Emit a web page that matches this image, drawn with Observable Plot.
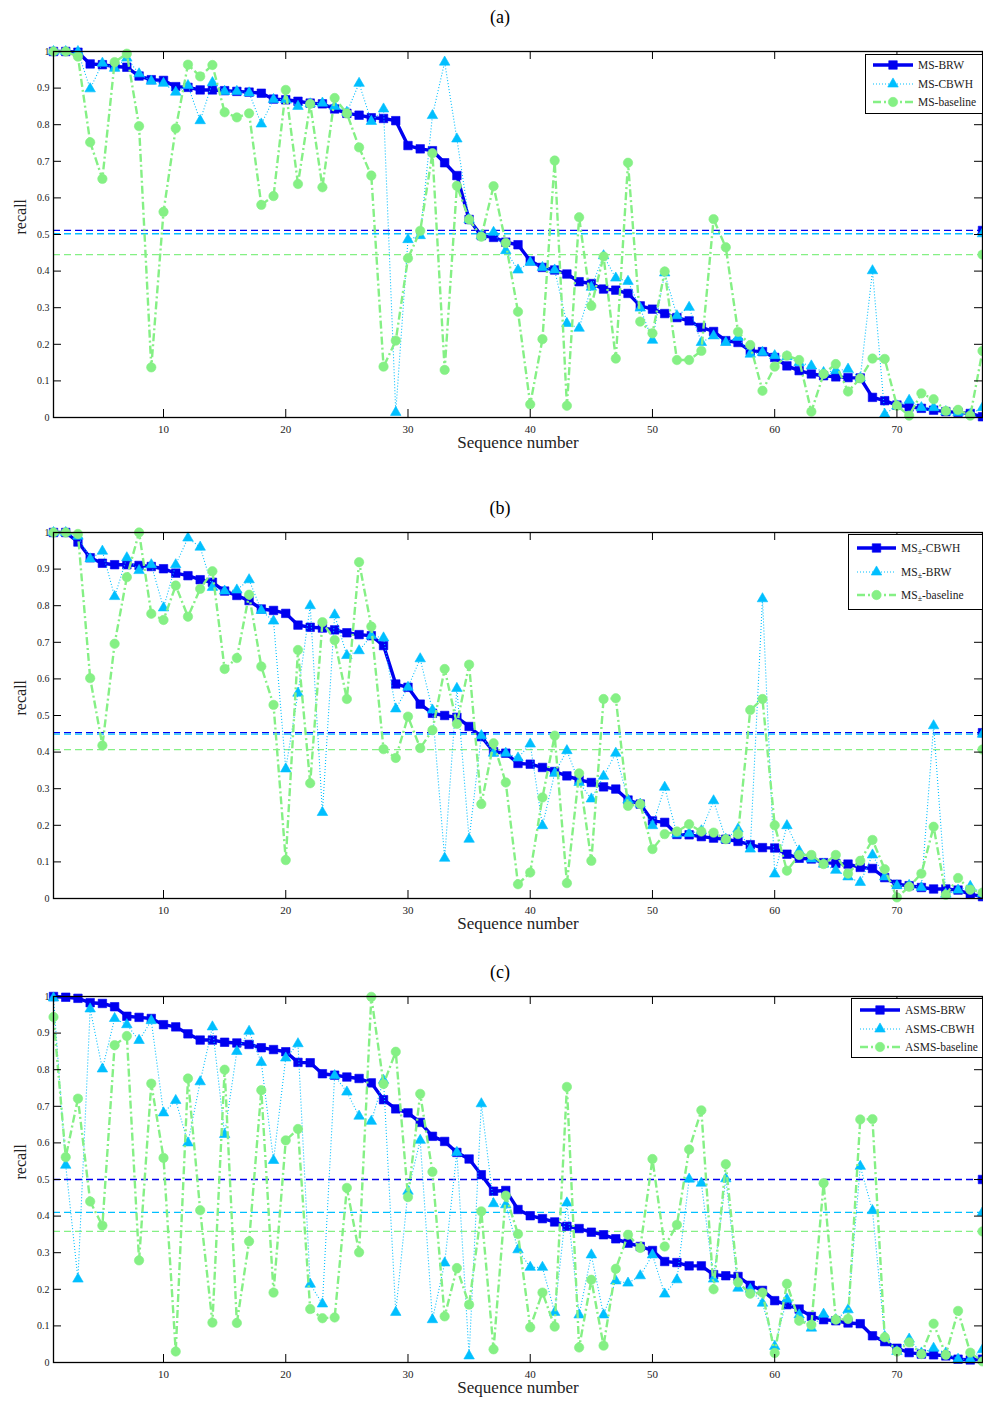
<!DOCTYPE html>
<html><head><meta charset="utf-8">
<script src="https://cdn.jsdelivr.net/npm/d3@7"></script>
<script src="https://cdn.jsdelivr.net/npm/@observablehq/plot@0.6"></script>
<style>
body{margin:0;background:#fff;font-family:"Liberation Serif","Times New Roman",serif;}
#page{position:relative;width:983px;height:1404px;overflow:hidden;background:#fff;}
.title{position:absolute;width:200px;left:400px;text-align:center;font-size:18px;line-height:20px;color:#000;}
.panel{position:absolute;left:0;}
.legend{position:absolute;background:#fff;border:1.3px solid #000;box-sizing:border-box;font-size:11.5px;color:#222;}
.legend .row{position:absolute;height:14px;line-height:14px;white-space:nowrap;}
.legend svg{position:absolute;left:0;top:0;}
.legend span.lab{position:absolute;top:0;}
sub{font-size:8px;vertical-align:-2px;line-height:0;}
</style>
</head><body><div id="page"></div>
<script>
// ---------- data ----------
const sequence = Array.from({length: 77}, (_, i) => i + 1);
const xTicks = [10, 20, 30, 40, 50, 60, 70];
const yTicks = [0, 0.1, 0.2, 0.3, 0.4, 0.5, 0.6, 0.7, 0.8, 0.9, 1];
const xLabel = "Sequence number";
const yLabel = "recall";

// panel (a)
const aTitle = "(a)";
const aNames = ["MS-BRW", "MS-CBWH", "MS-baseline"];
const aBRW = [1.0,1.0,0.998,0.966,0.964,0.959,0.957,0.933,0.923,0.921,
  0.904,0.902,0.895,0.895,0.893,0.891,0.889,0.886,0.87,0.868,
  0.864,0.859,0.857,0.843,0.831,0.826,0.819,0.817,0.811,0.743,
  0.734,0.729,0.696,0.661,0.541,0.497,0.492,0.479,0.472,0.428,
  0.41,0.403,0.392,0.371,0.366,0.351,0.348,0.339,0.305,0.296,
  0.284,0.273,0.264,0.246,0.235,0.21,0.205,0.182,0.18,0.164,
  0.141,0.128,0.119,0.114,0.111,0.109,0.108,0.055,0.046,0.034,
  0.029,0.025,0.02,0.016,0.014,0.011,0.002];
const aCBWH = [1.0,1.0,1.0,0.898,0.968,0.954,0.982,0.939,0.919,0.913,
  0.889,0.907,0.811,0.915,0.891,0.891,0.887,0.802,0.869,0.869,
  0.85,0.857,0.859,0.85,0.834,0.913,0.809,0.843,0.014,0.486,
  0.497,0.825,0.971,0.761,0.541,0.497,0.506,0.456,0.403,0.424,
  0.41,0.403,0.257,0.244,0.356,0.442,0.381,0.372,0.299,0.211,
  0.395,0.278,0.301,0.205,0.223,0.205,0.219,0.173,0.178,0.169,
  0.166,0.15,0.141,0.123,0.128,0.132,0.108,0.401,0.009,0.032,
  0.047,0.027,0.027,0.016,0.014,0.009,0.027];
const aBase = [1.0,1.0,0.986,0.752,0.652,0.971,0.994,0.796,0.137,0.562,
  0.79,0.964,0.932,0.963,0.834,0.82,0.831,0.581,0.605,0.895,
  0.638,0.857,0.629,0.873,0.831,0.738,0.661,0.139,0.21,0.435,
  0.51,0.722,0.13,0.633,0.541,0.494,0.632,0.477,0.289,0.036,
  0.214,0.702,0.032,0.547,0.305,0.44,0.161,0.696,0.262,0.23,
  0.399,0.157,0.157,0.182,0.542,0.465,0.234,0.198,0.073,0.139,
  0.169,0.157,0.016,0.119,0.146,0.071,0.107,0.161,0.16,0.032,
  0.005,0.066,0.05,0.018,0.021,0.005,0.182];
const aMeans = [0.511, 0.502, 0.445];

// panel (b)
const bTitle = "(b)";
const bNames = ["MS<sub>±</sub>-CBWH", "MS<sub>±</sub>-BRW", "MS<sub>±</sub>-baseline"];
const bCBWH = [1.0,1.0,0.974,0.931,0.916,0.912,0.912,0.91,0.907,0.901,
  0.889,0.882,0.871,0.864,0.84,0.828,0.814,0.791,0.787,0.779,
  0.747,0.741,0.739,0.734,0.726,0.721,0.718,0.691,0.586,0.577,
  0.531,0.506,0.5,0.495,0.47,0.442,0.401,0.397,0.369,0.367,
  0.358,0.347,0.335,0.324,0.317,0.305,0.299,0.269,0.258,0.212,
  0.208,0.175,0.174,0.169,0.165,0.162,0.156,0.147,0.139,0.138,
  0.121,0.11,0.108,0.098,0.096,0.094,0.085,0.082,0.057,0.039,
  0.035,0.03,0.026,0.026,0.023,0.012,0.005];
const bBRW = [1.0,1.0,0.99,0.928,0.949,0.825,0.931,0.896,0.912,0.794,
  0.912,0.985,0.96,0.85,0.84,0.843,0.871,0.787,0.758,0.354,
  0.561,0.8,0.235,0.775,0.664,0.677,0.718,0.712,0.518,0.577,
  0.655,0.515,0.11,0.574,0.162,0.445,0.397,0.397,0.384,0.422,
  0.199,0.342,0.404,0.317,0.272,0.334,0.397,0.269,0.258,0.199,
  0.304,0.176,0.178,0.185,0.267,0.162,0.19,0.135,0.819,0.067,
  0.199,0.13,0.108,0.094,0.077,0.059,0.044,0.119,0.059,0.035,
  0.036,0.03,0.472,0.012,0.023,0.033,0.014];
const bBase = [1.0,1.0,0.996,0.602,0.418,0.696,0.878,1.0,0.778,0.761,
  0.855,0.77,0.846,0.894,0.627,0.657,0.83,0.634,0.529,0.105,
  0.679,0.315,0.755,0.706,0.545,0.919,0.743,0.408,0.384,0.497,
  0.411,0.46,0.627,0.477,0.639,0.258,0.424,0.317,0.039,0.071,
  0.276,0.445,0.042,0.342,0.103,0.545,0.547,0.253,0.258,0.135,
  0.176,0.183,0.203,0.183,0.18,0.162,0.176,0.515,0.545,0.2,
  0.076,0.119,0.119,0.094,0.119,0.068,0.103,0.16,0.08,0.003,
  0.032,0.068,0.196,0.01,0.056,0.024,0.016];
const bMeans = [0.453, 0.449, 0.407];

// panel (c)
const cTitle = "(c)";
const cNames = ["ASMS-BRW", "ASMS-CBWH", "ASMS-baseline"];
const cBRW = [1.0,0.998,0.995,0.983,0.981,0.972,0.946,0.943,0.94,0.923,
  0.917,0.898,0.881,0.881,0.875,0.873,0.869,0.86,0.855,0.849,
  0.82,0.819,0.789,0.785,0.78,0.776,0.764,0.718,0.693,0.682,
  0.656,0.618,0.604,0.574,0.556,0.513,0.468,0.47,0.418,0.401,
  0.393,0.384,0.372,0.366,0.356,0.349,0.338,0.326,0.317,0.306,
  0.276,0.273,0.264,0.264,0.24,0.237,0.235,0.211,0.197,0.169,
  0.158,0.146,0.126,0.117,0.114,0.108,0.106,0.073,0.057,0.039,
  0.027,0.023,0.021,0.018,0.009,0.007,0.009];
const cCBWH = [0.996,0.539,0.228,0.966,0.802,0.94,0.923,0.88,0.934,0.682,
  0.716,0.6,0.767,0.917,0.623,0.85,0.905,0.82,0.552,0.832,
  0.871,0.214,0.16,0.784,0.739,0.673,0.659,0.771,0.137,0.468,
  0.607,0.117,0.272,0.574,0.018,0.707,0.434,0.431,0.308,0.26,
  0.26,0.137,0.436,0.13,0.294,0.13,0.223,0.217,0.237,0.294,
  0.187,0.226,0.501,0.49,0.228,0.502,0.203,0.2,0.162,0.044,
  0.173,0.13,0.094,0.132,0.117,0.144,0.536,0.415,0.071,0.03,
  0.064,0.026,0.039,0.026,0.009,0.009,0.035];
const cBase = [0.944,0.561,0.721,0.44,0.374,0.867,0.892,0.279,0.762,0.559,
  0.03,0.776,0.416,0.109,0.8,0.108,0.331,0.744,0.191,0.607,
  0.638,0.146,0.121,0.123,0.477,0.301,0.999,0.761,0.849,0.452,
  0.734,0.521,0.126,0.258,0.158,0.413,0.036,0.456,0.351,0.096,
  0.191,0.098,0.753,0.041,0.226,0.046,0.256,0.349,0.313,0.556,
  0.317,0.376,0.582,0.689,0.2,0.542,0.219,0.188,0.191,0.026,
  0.215,0.114,0.103,0.49,0.117,0.119,0.664,0.665,0.069,0.03,
  0.055,0.023,0.106,0.021,0.141,0.027,0.003];
const cMeans = [0.5, 0.41, 0.358];

// ---------- styles ----------
const STYLES = [
  {color: "#0000f0", width: 3.4, dash: null, symbol: "square", r: 4.8},
  {color: "#00bfff", width: 1.1, dash: "1,2", symbol: "triangle", r: 3.9},
  {color: "#85f085", width: 2.4, dash: "8,3,2,3", symbol: "circle", r: 4.7}
];

const W = 983, ML = 53, MR = 1, MT = 12, PH = 366, MB = 40;
const PW = W - ML - MR;
const page = document.getElementById("page");

function buildPanel(title, names, seriesVals, means, svgTop, titleTop, legendBox) {
  const marks = [];
  seriesVals.forEach((vals, i) => {
    const s = STYLES[i];
    marks.push(Plot.ruleY([means[i]], {y: d => d, stroke: s.color, strokeWidth: 1.3, strokeDasharray: "7,4"}));
  });
  seriesVals.forEach((vals, i) => {
    const s = STYLES[i];
    const rows = sequence.map((x, j) => ({x, y: vals[j]}));
    marks.push(Plot.line(rows, {x: "x", y: "y", stroke: s.color, strokeWidth: s.width,
      strokeDasharray: s.dash, strokeLinejoin: "miter", strokeLinecap: "butt"}));
    marks.push(Plot.dot(rows, {x: "x", y: "y", symbol: s.symbol, r: s.r, fill: s.color,
      stroke: s.color, strokeWidth: 0.6}));
    marks.push(Plot.dot([means[i]], {x: () => sequence[sequence.length - 1], y: d => d,
      symbol: s.symbol, r: s.r, fill: s.color, stroke: s.color, strokeWidth: 0.6}));
  });
  marks.push(Plot.tickY(yTicks, {y: d => d, insetRight: PW - 8, stroke: "#000", strokeWidth: 1}));
  marks.push(Plot.tickY(yTicks, {y: d => d, insetLeft: PW - 8, stroke: "#000", strokeWidth: 1}));
  marks.push(Plot.tickX(xTicks, {x: d => d, insetTop: PH - 8, stroke: "#000", strokeWidth: 1}));
  marks.push(Plot.tickX(xTicks, {x: d => d, insetBottom: PH - 8, stroke: "#000", strokeWidth: 1}));
  marks.push(Plot.frame({stroke: "#000", strokeWidth: 1.3}));
  marks.push(Plot.axisY({ticks: yTicks, tickSize: 0, tickPadding: 4, fontSize: 10, label: null,
    tickFormat: d => String(d), fill: "#222"}));
  marks.push(Plot.axisX({ticks: xTicks, tickSize: 0, tickPadding: 8, fontSize: 11, label: null,
    tickFormat: d => String(d), fill: "#222"}));
  marks.push(Plot.text([xLabel], {text: d => d, frameAnchor: "bottom", dy: 30, fontSize: 17, fill: "#222"}));
  marks.push(Plot.text([yLabel], {text: d => d, frameAnchor: "left", dx: -33, rotate: -90, fontSize: 16, fill: "#222"}));

  const svg = Plot.plot({
    width: W, height: MT + PH + MB,
    marginLeft: ML, marginRight: MR, marginTop: MT, marginBottom: MB,
    style: {fontFamily: "'Liberation Serif','Times New Roman',serif", background: "transparent", overflow: "visible"},
    x: {domain: [1, 77]},
    y: {domain: [0, 1]},
    marks
  });
  const holder = document.createElement("div");
  holder.className = "panel";
  holder.style.top = svgTop + "px";
  holder.appendChild(svg);
  page.appendChild(holder);

  const t = document.createElement("div");
  t.className = "title";
  t.style.top = titleTop + "px";
  t.textContent = title;
  page.appendChild(t);

  const lg = document.createElement("div");
  lg.className = "legend";
  Object.assign(lg.style, {left: legendBox.left + "px", top: legendBox.top + "px",
    width: legendBox.width + "px", height: legendBox.height + "px"});
  names.forEach((name, i) => {
    const s = STYLES[i];
    const row = document.createElement("div");
    row.className = "row";
    row.style.left = legendBox.sampleLeft + "px";
    row.style.top = (legendBox.rows[i] - 7) + "px";
    row.style.width = (legendBox.width - legendBox.sampleLeft - 2) + "px";
    const sw = legendBox.sampleWidth;
    const ns = "http://www.w3.org/2000/svg";
    const sv = document.createElementNS(ns, "svg");
    sv.setAttribute("width", sw); sv.setAttribute("height", 14);
    const ln = document.createElementNS(ns, "line");
    ln.setAttribute("x1", 0); ln.setAttribute("x2", sw); ln.setAttribute("y1", 7); ln.setAttribute("y2", 7);
    ln.setAttribute("stroke", s.color); ln.setAttribute("stroke-width", s.width);
    if (s.dash) ln.setAttribute("stroke-dasharray", s.dash);
    sv.appendChild(ln);
    const p = document.createElementNS(ns, "path");
    const sym = {square: d3.symbolSquare, triangle: d3.symbolTriangle, circle: d3.symbolCircle}[s.symbol];
    p.setAttribute("d", d3.symbol(sym, Math.PI * s.r * s.r)());
    p.setAttribute("transform", `translate(${sw / 2},7)`);
    p.setAttribute("fill", s.color); p.setAttribute("stroke", s.color); p.setAttribute("stroke-width", 0.6);
    sv.appendChild(p);
    row.appendChild(sv);
    const lab = document.createElement("span");
    lab.className = "lab";
    lab.style.left = (sw + 5) + "px";
    lab.innerHTML = name;
    row.appendChild(lab);
    lg.appendChild(row);
  });
  page.appendChild(lg);
}

buildPanel(aTitle, aNames, [aBRW, aCBWH, aBase], aMeans, 39, 7,
  {left: 865, top: 54, width: 118, height: 60, sampleLeft: 7, sampleWidth: 40, rows: [10, 29, 47]});
buildPanel(bTitle, bNames, [bCBWH, bBRW, bBase], bMeans, 520, 498,
  {left: 848, top: 534, width: 135, height: 76, sampleLeft: 8, sampleWidth: 39, rows: [13, 37, 60]});
buildPanel(cTitle, cNames, [cBRW, cCBWH, cBase], cMeans, 984, 962,
  {left: 851, top: 998, width: 132, height: 60, sampleLeft: 8, sampleWidth: 40, rows: [11, 30, 48]});
</script>
</body></html>
